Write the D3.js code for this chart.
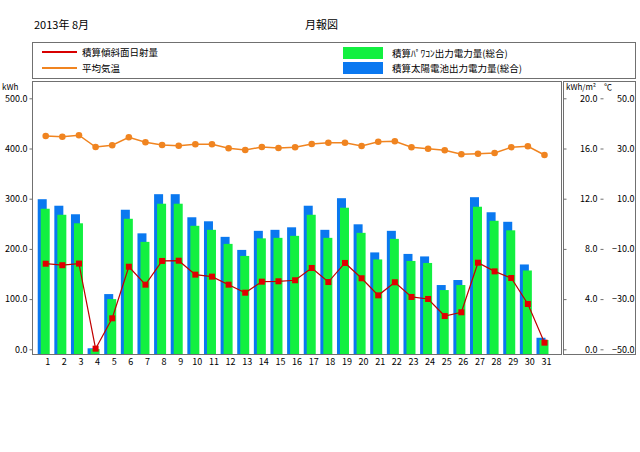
<!DOCTYPE html>
<html>
<head>
<meta charset="utf-8">
<script src="https://cdn.jsdelivr.net/npm/d3@7"></script>
<style>
  body { margin: 0; background: #fff; }
  text { font-family: "Noto Sans CJK JP", "DejaVu Sans", sans-serif; fill: #000; }
</style>
</head>
<body>
<svg id="chart" width="640" height="452"></svg>
<script>
(function () {
    'use strict';

    /* Data */

    var days = d3.range(1, 32);

    var panelKwh = [299, 286, 269, 2, 110, 278, 231, 309, 309, 263, 255,
                    224, 198, 236, 238, 243, 286, 238, 301, 249, 193, 236,
                    190, 185, 128, 138, 303, 273, 254, 169, 23];

    var inverterKwh = [280, 268, 251, 0.5, 100, 260, 214, 290, 290, 246, 238,
                       210, 186, 221, 222, 226, 268, 222, 282, 232, 179, 220,
                       176, 172, 118, 128, 284, 256, 237, 157, 18.5];

    var irradiance = [6.82, 6.70, 6.83, 0.05, 2.47, 6.58, 5.15, 7.04, 7.06, 5.95, 5.79,
                      5.15, 4.51, 5.39, 5.42, 5.50, 6.48, 5.36, 6.88, 5.66, 4.30, 5.34,
                      4.17, 4.01, 2.65, 2.95, 6.90, 6.21, 5.68, 3.61, 0.53];

    var temperature = [35.0, 34.7, 35.3, 30.6, 31.3, 34.5, 32.5, 31.4, 31.1, 31.7, 31.7,
                       30.1, 29.4, 30.6, 30.2, 30.5, 31.8, 32.3, 32.3, 31.0, 32.7, 32.9,
                       30.5, 29.9, 29.3, 27.7, 27.9, 28.2, 30.5, 30.9, 27.4];

    var kwhTicks = [0, 100, 200, 300, 400, 500],
        irrTicks = [0, 4, 8, 12, 16, 20],
        tempTicks = [-50, -30, -10, 10, 30, 50];

    /* Colours */

    var blue = '#0a78f0',
        green = '#12f040',
        red = '#d80000',
        orange = '#f08420',
        frame = '#707070';

    var svg = d3.select('#chart');

    /* Frame geometry */

    var plotL = 32, plotR = 561, plotT = 81, plotB = 354,
        zeroY = 349.3, topY = 98.3;

    /* Scales */

    var x = d3.scaleBand().domain(days).range([37.4, 552.8]);
    var y = d3.scaleLinear().domain([0, 500]).range([zeroY, topY]);
    var yIrr = d3.scaleLinear().domain([0, 20]).range([zeroY, topY]);
    var yTemp = d3.scaleLinear().domain([-50, 50]).range([zeroY, topY]);

    function cx(d) { return x(d) + x.bandwidth() / 2; }

    /* Title */

    svg.append('text').attr('x', 34).attr('y', 29).style('font-size', '11px').text('2013年 8月');
    svg.append('text').attr('x', 305).attr('y', 29).style('font-size', '11px').text('月報図');

    /* Legend */

    svg.append('rect').attr('x', 32.5).attr('y', 42.5).attr('width', 603).attr('height', 36)
        .attr('fill', 'none').attr('stroke', frame);

    var legendLines = [
        { label: '積算傾斜面日射量', color: red, y: 52 },
        { label: '平均気温', color: orange, y: 68 }
    ];
    legendLines.forEach(function (l) {
        svg.append('line').attr('x1', 42).attr('x2', 77).attr('y1', l.y).attr('y2', l.y)
            .attr('stroke', l.color).attr('stroke-width', 2);
        svg.append('text').attr('x', 82).attr('y', l.y + 4).style('font-size', '9.5px').text(l.label);
    });

    var legendBoxes = [
        { label: '積算ﾊﾟﾜｺﾝ出力電力量(総合)', color: green, y: 47 },
        { label: '積算太陽電池出力電力量(総合)', color: blue, y: 62 }
    ];
    legendBoxes.forEach(function (l) {
        svg.append('rect').attr('x', 343).attr('y', l.y).attr('width', 40).attr('height', 12)
            .attr('fill', l.color);
        svg.append('text').attr('x', 392).attr('y', l.y + 10).style('font-size', '9.5px').text(l.label);
    });

    /* Bars */

    svg.append('g').selectAll('rect').data(days).join('rect')
        .attr('x', function (d) { return cx(d) - 8; })
        .attr('width', 9)
        .attr('y', function (d, i) { return y(panelKwh[i]); })
        .attr('height', function (d, i) { return plotB - y(panelKwh[i]); })
        .attr('fill', blue);

    svg.append('g').selectAll('rect').data(days).join('rect')
        .attr('x', function (d) { return cx(d) - 5; })
        .attr('width', 9)
        .attr('y', function (d, i) { return y(inverterKwh[i]); })
        .attr('height', function (d, i) { return plotB - y(inverterKwh[i]); })
        .attr('fill', green);

    /* Lines */

    var tempLine = d3.line()
        .x(function (d) { return cx(d); })
        .y(function (d, i) { return yTemp(temperature[i]); });

    svg.append('path').datum(days).attr('d', tempLine)
        .attr('fill', 'none').attr('stroke', orange).attr('stroke-width', 1.5);

    svg.append('g').selectAll('circle').data(days).join('circle')
        .attr('cx', cx)
        .attr('cy', function (d, i) { return yTemp(temperature[i]); })
        .attr('r', 3.3)
        .attr('fill', orange);

    var irrLine = d3.line()
        .x(function (d) { return cx(d); })
        .y(function (d, i) { return yIrr(irradiance[i]); });

    svg.append('path').datum(days).attr('d', irrLine)
        .attr('fill', 'none').attr('stroke', '#c00000').attr('stroke-width', 1.2);

    svg.append('g').selectAll('rect').data(days).join('rect')
        .attr('x', function (d) { return cx(d) - 3; })
        .attr('y', function (d, i) { return yIrr(irradiance[i]) - 3; })
        .attr('width', 6).attr('height', 6)
        .attr('fill', '#e00000');

    /* Plot frame */

    svg.append('rect').attr('x', plotL + 0.5).attr('y', plotT + 0.5)
        .attr('width', plotR - plotL).attr('height', plotB - plotT)
        .attr('fill', 'none').attr('stroke', frame);

    svg.append('rect').attr('x', 563.5).attr('y', plotT + 0.5)
        .attr('width', 72).attr('height', plotB - plotT)
        .attr('fill', 'none').attr('stroke', frame);

    /* Axes */

    var fmt = d3.format('.1f');

    var leftAxis = svg.append('g').attr('transform', 'translate(' + (plotL + 0.5) + ',0)')
        .call(d3.axisLeft(y).tickValues(kwhTicks).tickFormat(fmt).tickSize(3).tickPadding(2));

    var irrAxis = svg.append('g').attr('transform', 'translate(563.5,0)')
        .call(d3.axisRight(yIrr).tickValues(irrTicks).tickFormat(fmt).tickSize(3));
    irrAxis.selectAll('text').attr('x', 34).attr('text-anchor', 'end');

    var tempAxis = svg.append('g').attr('transform', 'translate(600.5,0)')
        .call(d3.axisRight(yTemp).tickValues(tempTicks).tickFormat(fmt).tickSize(3));
    tempAxis.selectAll('text').attr('x', 34).attr('text-anchor', 'end');

    var bottomAxis = svg.append('g').attr('transform', 'translate(0,' + (plotB + 0.5) + ')')
        .call(d3.axisBottom(x).tickSize(0).tickPadding(4));
    bottomAxis.selectAll('text').attr('dx', 2);

    [leftAxis, irrAxis, tempAxis, bottomAxis].forEach(function (g) {
        g.select('.domain').remove();
        g.selectAll('line').attr('stroke', frame);
        g.selectAll('text').style('font-size', '9px').style('font-family', '"Noto Sans CJK JP", sans-serif');
    });

    /* Units */

    svg.append('text').attr('x', 2).attr('y', 90).style('font-size', '8px').text('kWh');
    svg.append('text').attr('x', 566).attr('y', 90).style('font-size', '8px').text('kWh/m²');
    svg.append('text').attr('x', 604).attr('y', 90).style('font-size', '8px').text('℃');

})();
</script>
</body>
</html>
